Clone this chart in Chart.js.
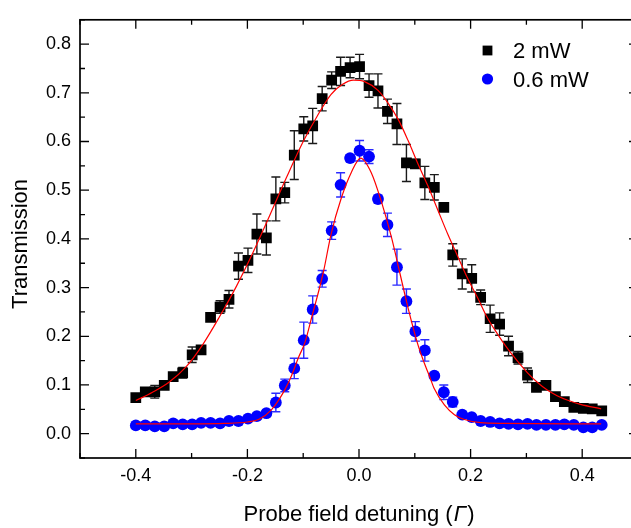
<!DOCTYPE html>
<html><head><meta charset="utf-8">
<script src="https://cdn.jsdelivr.net/npm/chart.js@4.4.1/dist/chart.umd.min.js"></script>
<style>html,body{margin:0;padding:0;background:#fff;overflow:hidden;}canvas{display:block;}</style>
</head><body>
<canvas id="c" width="646" height="528" style="width:646px;height:528px"></canvas>
<script>
// ---- data ----
const detuning = [-0.400,-0.383,-0.366,-0.349,-0.333,-0.316,-0.299,-0.283,-0.266,-0.249,-0.233,-0.216,-0.199,-0.183,-0.166,-0.149,-0.133,-0.116,-0.099,-0.083,-0.066,-0.049,-0.033,-0.016,0.001,0.018,0.034,0.051,0.068,0.085,0.101,0.118,0.135,0.152,0.168,0.185,0.202,0.218,0.235,0.252,0.268,0.285,0.302,0.318,0.335,0.352,0.368,0.385,0.402,0.418,0.435];
const trans2mW = [0.074,0.086,0.086,0.099,0.117,0.125,0.162,0.172,0.239,0.260,0.276,0.344,0.356,0.410,0.402,0.482,0.495,0.572,0.626,0.632,0.688,0.726,0.744,0.752,0.754,0.715,0.704,0.662,0.636,0.556,0.554,0.515,0.506,0.465,0.367,0.328,0.319,0.280,0.236,0.225,0.180,0.156,0.120,0.095,0.099,0.076,0.066,0.054,0.052,0.051,0.047];
const err2mW = [0.005,0.005,0.013,0.005,0.005,0.011,0.016,0.008,0.005,0.013,0.018,0.027,0.025,0.041,0.035,0.045,0.021,0.050,0.025,0.036,0.025,0.017,0.029,0.021,0.025,0.024,0.035,0.025,0.042,0.038,0.009,0.034,0.026,0.005,0.023,0.031,0.028,0.015,0.028,0.023,0.020,0.013,0.015,0.005,0.005,0.005,0.005,0.005,0.005,0.005,0.005];
const trans06mW = [0.017,0.017,0.015,0.015,0.021,0.019,0.019,0.022,0.022,0.021,0.026,0.026,0.031,0.036,0.042,0.064,0.099,0.134,0.192,0.255,0.318,0.417,0.511,0.566,0.581,0.569,0.482,0.429,0.342,0.272,0.210,0.171,0.119,0.085,0.065,0.039,0.034,0.026,0.024,0.021,0.020,0.019,0.020,0.018,0.018,0.018,0.019,0.018,0.013,0.013,0.018];
const err06mW = [0.004,0.004,0.004,0.004,0.004,0.004,0.004,0.004,0.004,0.004,0.004,0.004,0.004,0.004,0.004,0.019,0.013,0.021,0.037,0.028,0.017,0.018,0.025,0.007,0.021,0.014,0.008,0.024,0.037,0.025,0.020,0.022,0.005,0.015,0.010,0.004,0.004,0.004,0.004,0.004,0.004,0.004,0.004,0.004,0.004,0.004,0.004,0.004,0.004,0.004,0.004];
const fit2mWX = [-0.400,-0.370,-0.340,-0.310,-0.280,-0.250,-0.220,-0.190,-0.160,-0.130,-0.100,-0.075,-0.050,-0.030,-0.010,0.010,0.034,0.052,0.070,0.088,0.105,0.123,0.141,0.159,0.177,0.195,0.213,0.230,0.248,0.266,0.284,0.302,0.320,0.338,0.355,0.373,0.397,0.434];
const fit2mWY = [0.068,0.085,0.106,0.137,0.183,0.240,0.302,0.372,0.448,0.526,0.600,0.652,0.697,0.717,0.726,0.723,0.705,0.679,0.646,0.602,0.556,0.510,0.460,0.410,0.364,0.318,0.278,0.238,0.205,0.175,0.149,0.125,0.105,0.089,0.078,0.069,0.060,0.051];
const fit06mWX = [-0.400,-0.300,-0.240,-0.200,-0.180,-0.157,-0.133,-0.121,-0.109,-0.097,-0.085,-0.064,-0.050,-0.032,-0.014,0.003,0.022,0.040,0.058,0.073,0.088,0.105,0.117,0.126,0.135,0.153,0.171,0.189,0.218,0.260,0.434];
const fit06mWY = [0.020,0.020,0.021,0.024,0.029,0.049,0.090,0.119,0.155,0.187,0.238,0.331,0.410,0.483,0.536,0.566,0.536,0.477,0.404,0.331,0.258,0.185,0.145,0.119,0.092,0.059,0.039,0.029,0.0225,0.021,0.020];
const seriesLabels = ['2 mW', '0.6 mW'];
const xTickLabels = ['-0.4','-0.2','0.0','0.2','0.4'];
const yTickLabels = ['0.0','0.1','0.2','0.3','0.4','0.5','0.6','0.7','0.8'];
const xTitleParts = ['Probe field detuning (', '\u0393', ')'];
const yTitle = 'Transmission';

const FONT = '"Liberation Sans", Arial, Helvetica, sans-serif';
Chart.defaults.font.family = FONT;
Chart.defaults.color = '#000';

const pts = (xs, ys) => xs.map((x, i) => ({x: x, y: ys[i]}));

const errorBars = {
  id: 'errorBars',
  beforeDatasetDraw(chart, args) {
    const ds = chart.data.datasets[args.index];
    if (!ds.errors) return;
    const ctx = chart.ctx, ys = chart.scales.y;
    ctx.save();
    ctx.strokeStyle = ds.errorColor;
    ctx.lineWidth = 1.4;
    args.meta.data.forEach((el, i) => {
      const v = ds.data[i].y, e = ds.errors[i];
      const y1 = ys.getPixelForValue(v - e), y2 = ys.getPixelForValue(v + e);
      const x = el.x, w = 4.5;
      ctx.beginPath();
      ctx.moveTo(x, y1); ctx.lineTo(x, y2);
      ctx.moveTo(x - w, y1); ctx.lineTo(x + w, y1);
      ctx.moveTo(x - w, y2); ctx.lineTo(x + w, y2);
      ctx.stroke();
    });
    ctx.restore();
  }
};

const frame = {
  id: 'frame',
  afterDraw(chart) {
    const ctx = chart.ctx, a = chart.chartArea, xs = chart.scales.x, ys = chart.scales.y;
    ctx.save();
    ctx.strokeStyle = '#000';
    ctx.lineWidth = 1.3;
    xs.ticks.forEach(t => {
      const p = xs.getPixelForValue(t.value);
      const L = t.label !== '' ? 9 : 5;
      ctx.beginPath();
      ctx.moveTo(p, a.bottom); ctx.lineTo(p, a.bottom - L);
      ctx.moveTo(p, a.top); ctx.lineTo(p, a.top + L);
      ctx.stroke();
    });
    ys.ticks.forEach(t => {
      const p = ys.getPixelForValue(t.value);
      const L = t.label !== '' ? 9 : 5;
      ctx.beginPath();
      ctx.moveTo(a.left, p); ctx.lineTo(a.left + L, p);
      ctx.moveTo(a.right, p); ctx.lineTo(a.right - L, p);
      ctx.stroke();
    });
    ctx.lineWidth = 1.7;
    ctx.strokeRect(a.left, a.top, a.right - a.left, a.bottom - a.top);
    ctx.fillStyle = '#000';
    // x axis title (italic Gamma), centred under the plot area
    const nf = '22px ' + FONT, itf = 'italic 22px ' + FONT;
    ctx.textBaseline = 'alphabetic';
    ctx.textAlign = 'left';
    ctx.font = nf; const w0 = ctx.measureText(xTitleParts[0]).width, w2 = ctx.measureText(xTitleParts[2]).width;
    ctx.font = itf; const w1 = ctx.measureText(xTitleParts[1]).width + 2;
    let tx = (a.left + a.right) / 2 - (w0 + w1 + w2) / 2;
    const ty = 520.5;
    ctx.font = nf; ctx.fillText(xTitleParts[0], tx, ty); tx += w0;
    ctx.font = itf; ctx.fillText(xTitleParts[1], tx + 1, ty); tx += w1;
    ctx.font = nf; ctx.fillText(xTitleParts[2], tx, ty);
    // y axis title
    ctx.font = nf;
    ctx.textAlign = 'center';
    ctx.textBaseline = 'middle';
    ctx.translate(21, 244);
    ctx.rotate(-Math.PI / 2);
    ctx.fillText(yTitle, 0, 0);
    ctx.restore();
    // legend
    ctx.save();
    ctx.font = '22px ' + FONT;
    ctx.textAlign = 'left';
    ctx.textBaseline = 'alphabetic';
    const d0 = chart.data.datasets[0], d1 = chart.data.datasets[1];
    ctx.fillStyle = d0.backgroundColor;
    ctx.fillRect(487.5 - 4.9, 50.5 - 4.9, 9.8, 9.8);
    ctx.fillStyle = d1.backgroundColor;
    ctx.beginPath(); ctx.arc(487.5, 79, 5.6, 0, Math.PI * 2); ctx.fill();
    ctx.fillStyle = '#000';
    ctx.fillText(d0.label, 513, 58.4);
    ctx.fillText(d1.label, 513, 86.9);
    ctx.restore();
  }
};

new Chart(document.getElementById('c'), {
  type: 'scatter',
  data: {
    datasets: [
      {label: seriesLabels[0], data: pts(detuning, trans2mW), errors: err2mW, errorColor: '#1a1a1a',
       pointStyle: 'rect', pointRadius: 7.6, backgroundColor: '#000', borderColor: '#000', borderWidth: 0, order: 2},
      {label: seriesLabels[1], data: pts(detuning, trans06mW), errors: err06mW, errorColor: '#2a2aff',
       pointStyle: 'circle', pointRadius: 5.9, backgroundColor: '#0000ff', borderColor: '#0000ff', borderWidth: 0, order: 2},
      {label: 'fit 2 mW', data: pts(fit2mWX, fit2mWY), showLine: true, pointRadius: 0, borderColor: '#ff0000',
       borderWidth: 1.2, cubicInterpolationMode: 'monotone', fill: false, order: 0},
      {label: 'fit 0.6 mW', data: pts(fit06mWX, fit06mWY), showLine: true, pointRadius: 0, borderColor: '#ff0000',
       borderWidth: 1.2, cubicInterpolationMode: 'monotone', fill: false, order: 0}
    ]
  },
  options: {
    responsive: false,
    animation: false,
    devicePixelRatio: 1,
    events: [],
    layout: {padding: {top: 5, right: 8, left: 0, bottom: 0}},
    plugins: {legend: {display: false}, tooltip: {enabled: false}, title: {display: false}},
    scales: {
      x: {
        type: 'linear', min: -0.5, max: 0.5,
        afterFit(s) { s.height = 70; },
        grid: {display: false, drawTicks: false},
        border: {display: false},
        ticks: {stepSize: 0.1, autoSkip: false, maxRotation: 0, padding: 7, font: {size: 18}, color: '#000',
          callback(v) { const k = Math.round(v * 10); if (Math.abs(v * 10 - k) > 1e-6) return ''; const s = (k / 10).toFixed(1); return xTickLabels.includes(s) ? s : ''; }}
      },
      y: {
        type: 'linear', min: -0.05, max: 0.85,
        afterFit(s) { s.width = 80; },
        grid: {display: false, drawTicks: false},
        border: {display: false},
        ticks: {stepSize: 0.05, autoSkip: false, maxTicksLimit: 100, padding: 9, font: {size: 18}, color: '#000',
          callback(v) { const k = Math.round(v * 100); if (k % 10 !== 0) return ''; const s = (k / 100).toFixed(1); return yTickLabels.includes(s) ? s : ''; }}
      }
    }
  },
  plugins: [errorBars, frame]
});
</script>
</body></html>
